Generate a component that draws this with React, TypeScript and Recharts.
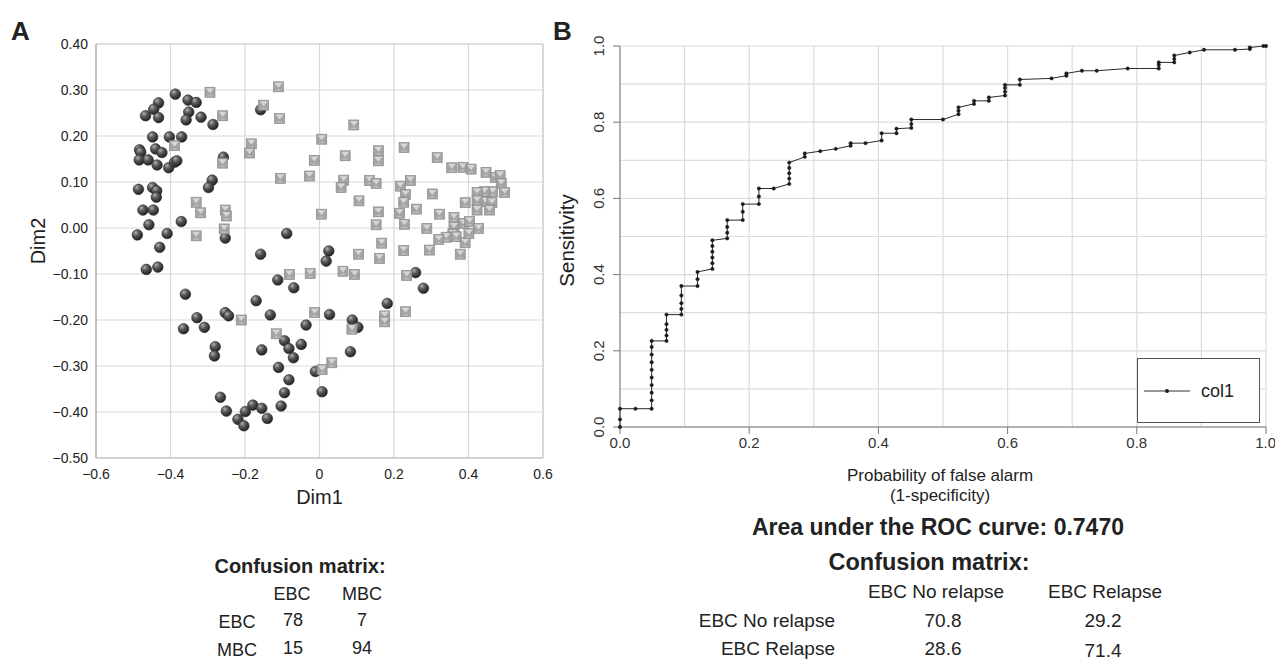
import React from "react";
import { ScatterChart, Scatter, LineChart, Line, XAxis, YAxis, CartesianGrid, ReferenceLine, Legend } from "recharts";

const FONT = "'Liberation Sans', Arial, Helvetica, sans-serif";

// ---- Panel A: 2-D projection, EBC (spheres) and MBC (squares) ----
const ebcDim1 = [
  -0.387, -0.432, -0.353, -0.331, -0.445, -0.467, -0.432, -0.351, -0.358, -0.318,
  -0.286, -0.448, -0.403, -0.370, -0.483, -0.480, -0.440, -0.423, -0.484, -0.460,
  -0.436, -0.405, -0.389, -0.383, -0.258, -0.486, -0.448, -0.437, -0.438, -0.288,
  -0.298, -0.474, -0.446, -0.458, -0.371, -0.489, -0.409, -0.253, -0.158, -0.088,
  -0.429, -0.465, -0.434, -0.158, -0.112, -0.069, -0.360, -0.170, -0.329, -0.309,
  -0.365, -0.253, -0.244, -0.132, -0.036, -0.280, -0.282, -0.155, -0.094, -0.082,
  -0.049, -0.070, -0.110, -0.011, -0.082, -0.094, -0.266, -0.103, -0.250, -0.199,
  -0.179, -0.155, -0.219, -0.203, -0.140, 0.025, 0.018, 0.258, 0.279, 0.182,
  0.027, 0.088, 0.103, 0.083, 0.007,
];
const ebcDim2 = [
  0.291, 0.272, 0.278, 0.273, 0.258, 0.244, 0.240, 0.252, 0.235, 0.241,
  0.225, 0.198, 0.198, 0.198, 0.170, 0.165, 0.172, 0.164, 0.148, 0.148,
  0.137, 0.131, 0.143, 0.146, 0.154, 0.084, 0.088, 0.081, 0.067, 0.104,
  0.088, 0.039, 0.039, 0.007, 0.014, -0.015, -0.012, -0.022, 0.257, -0.012,
  -0.042, -0.090, -0.085, -0.057, -0.113, -0.130, -0.144, -0.158, -0.195, -0.216,
  -0.219, -0.184, -0.191, -0.189, -0.211, -0.258, -0.278, -0.265, -0.245, -0.262,
  -0.253, -0.282, -0.303, -0.312, -0.330, -0.358, -0.368, -0.387, -0.398, -0.399,
  -0.385, -0.392, -0.416, -0.430, -0.414, -0.050, -0.072, -0.097, -0.131, -0.164,
  -0.188, -0.200, -0.216, -0.269, -0.356,
];
const mbcDim1 = [
  -0.294, -0.260, -0.389, -0.260, -0.331, -0.319, -0.253, -0.250, -0.256, -0.331,
  -0.110, -0.150, -0.107, -0.183, -0.188, -0.105, -0.027, -0.014, 0.006, 0.005,
  0.092, 0.069, 0.158, 0.158, 0.227, 0.316, 0.065, 0.058, 0.134, 0.152,
  0.217, 0.244, 0.231, 0.226, 0.303, 0.106, 0.158, 0.152, 0.215, 0.228,
  0.260, 0.322, 0.288, 0.355, 0.385, 0.407, 0.447, 0.472, 0.485, 0.488,
  0.497, 0.465, 0.443, 0.423, 0.445, 0.463, 0.423, 0.423, 0.456, 0.391,
  0.361, 0.387, 0.403, 0.427, 0.361, 0.358, 0.340, 0.320, 0.367, 0.391,
  0.401, -0.081, -0.025, -0.210, -0.116, -0.013, 0.167, 0.105, 0.161, 0.226,
  0.295, 0.378, 0.063, 0.094, 0.234, 0.175, 0.175, 0.231, 0.087, 0.033,
  0.007,
];
const mbcDim2 = [
  0.295, 0.244, 0.179, 0.141, 0.056, 0.033, 0.039, 0.026, -0.002, -0.017,
  0.307, 0.267, 0.238, 0.183, 0.163, 0.108, 0.113, 0.147, 0.193, 0.030,
  0.224, 0.157, 0.168, 0.146, 0.175, 0.153, 0.104, 0.088, 0.103, 0.097,
  0.091, 0.103, 0.073, 0.056, 0.074, 0.059, 0.035, 0.007, 0.032, 0.008,
  0.041, 0.030, -0.001, 0.131, 0.132, 0.128, 0.121, 0.110, 0.114, 0.097,
  0.077, 0.079, 0.079, 0.077, 0.057, 0.055, 0.059, 0.039, 0.039, 0.055,
  0.023, 0.010, 0.014, -0.001, 0.002, -0.013, -0.020, -0.025, -0.019, -0.032,
  -0.012, -0.101, -0.099, -0.200, -0.230, -0.184, -0.033, -0.057, -0.066, -0.049,
  -0.048, -0.057, -0.094, -0.101, -0.103, -0.191, -0.204, -0.182, -0.220, -0.293,
  -0.308,
];
const dim1Ticks = [-0.6, -0.4, -0.2, 0, 0.2, 0.4, 0.6];
const dim2Ticks = [0.4, 0.3, 0.2, 0.1, 0, -0.1, -0.2, -0.3, -0.4, -0.5];

const matACols = ["EBC", "MBC"];
const matARows = ["EBC", "MBC"];
const matAValues = [["78", "7"], ["15", "94"]];

// ---- Panel B: ROC curve ----
const rocFpr = [
  0, 0, 0, 0.024, 0.049, 0.049, 0.049, 0.049, 0.049, 0.049, 0.049, 0.049, 0.049, 0.049,
  0.072, 0.072, 0.072, 0.072, 0.072, 0.095, 0.095, 0.095, 0.095, 0.095, 0.12, 0.12, 0.12,
  0.143, 0.143, 0.143, 0.143, 0.143, 0.143, 0.166, 0.166, 0.166, 0.166, 0.19, 0.19, 0.19,
  0.215, 0.215, 0.215, 0.238, 0.262, 0.262, 0.262, 0.262, 0.262, 0.286, 0.286, 0.31, 0.334,
  0.357, 0.357, 0.38, 0.405, 0.405, 0.428, 0.428, 0.451, 0.451, 0.451, 0.5, 0.524, 0.524,
  0.524, 0.548, 0.548, 0.571, 0.571, 0.596, 0.596, 0.596, 0.596, 0.619, 0.619, 0.668, 0.691,
  0.691, 0.715, 0.738, 0.786, 0.834, 0.834, 0.834, 0.858, 0.858, 0.858, 0.882, 0.904, 0.952,
  0.975, 0.975, 0.996, 1.0,
];
const rocTpr = [
  0, 0.02, 0.048, 0.048, 0.048, 0.07, 0.09, 0.11, 0.13, 0.15, 0.17, 0.19, 0.21, 0.226,
  0.226, 0.24, 0.255, 0.27, 0.295, 0.295, 0.31, 0.325, 0.345, 0.37, 0.37, 0.388, 0.407,
  0.415, 0.43, 0.445, 0.46, 0.475, 0.49, 0.495, 0.51, 0.525, 0.543, 0.543, 0.565, 0.585,
  0.585, 0.605, 0.626, 0.626, 0.638, 0.652, 0.666, 0.68, 0.694, 0.709, 0.718, 0.724, 0.73,
  0.738, 0.745, 0.745, 0.752, 0.771, 0.771, 0.783, 0.785, 0.795, 0.807, 0.807, 0.821, 0.83,
  0.839, 0.848, 0.856, 0.856, 0.865, 0.87, 0.88, 0.89, 0.898, 0.898, 0.912, 0.915, 0.922,
  0.928, 0.935, 0.935, 0.941, 0.941, 0.95, 0.957, 0.957, 0.966, 0.975, 0.983, 0.99, 0.99,
  0.992, 0.996, 1.0, 1.0,
];
const rocTicks = [0, 0.2, 0.4, 0.6, 0.8, 1];
const rocGrid = [0, 0.1, 0.2, 0.3, 0.4, 0.5, 0.6, 0.7, 0.8, 0.9, 1];
const aucValue = "0.7470";

const matBCols = ["EBC No relapse", "EBC Relapse"];
const matBRows = ["EBC No relapse", "EBC Relapse"];
const matBValues = [["70.8", "29.2"], ["28.6", "71.4"]];

const ebcData = ebcDim1.map((x, i) => ({ x, y: ebcDim2[i] }));
const mbcData = mbcDim1.map((x, i) => ({ x, y: mbcDim2[i] }));
const rocData = rocFpr.map((fpr, i) => ({ fpr, tpr: rocTpr[i] }));

const fmtDim1 = (v: number) => (v === 0 ? "0" : (v < 0 ? "\u2212" : "") + Math.abs(v).toFixed(1));
const fmtDim2 = (v: number) => (v < 0 ? "\u2212" : "") + Math.abs(v).toFixed(2);

const Ball = ({ cx, cy }: any) => (
  <circle cx={cx} cy={cy} r={5.3} fill="url(#ballGrad)" stroke="#262626" strokeWidth={0.6} />
);

const Box = ({ cx, cy }: any) => {
  const s = 5;
  return (
    <g>
      <rect x={cx - s} y={cy - s} width={2 * s} height={2 * s} fill="#a4a4a4" stroke="#8a8a8a" strokeWidth={0.7} />
      <polygon points={`${cx - s + 1},${cy - s + 1} ${cx + s - 1},${cy - s + 1} ${cx},${cy + 1}`} fill="#d6d6d6" />
      <polygon points={`${cx - s + 1.5},${cy + s - 1} ${cx + s - 1.5},${cy + s - 1} ${cx},${cy + 2}`} fill="#bdbdbd" />
    </g>
  );
};

const RotTick = ({ x, y, payload }: any) => (
  <text transform={`translate(${x - 13},${y}) rotate(-90)`} textAnchor="middle" dominantBaseline="central"
    fontSize={15} fill="#333" fontFamily={FONT}>
    {Number(payload.value).toFixed(1)}
  </text>
);

const RocLegend = () => (
  <div style={{ width: "100%", height: "100%", border: "1.5px solid #555", boxSizing: "border-box", background: "#fff", position: "relative", fontFamily: FONT }}>
    <svg width={50} height={20} style={{ position: "absolute", left: 5, top: 22 }}>
      <line x1={1} y1={10} x2={47} y2={10} stroke="#333" strokeWidth={1} />
      <circle cx={24} cy={10} r={2} fill="#1a1a1a" />
    </svg>
    <span style={{ position: "absolute", left: 63, top: 21, fontSize: 18, color: "#222", lineHeight: "22px" }}>col1</span>
  </div>
);

const Txt = ({ x, y, size, bold, align = "center", children }: any) => (
  <div style={{
    position: "absolute", left: x, top: y, fontSize: size, fontWeight: bold ? 700 : 400, color: "#222",
    fontFamily: FONT, whiteSpace: "nowrap", lineHeight: 1,
    transform: `translate(${align === "center" ? "-50%" : align === "right" ? "-100%" : "0"}, -50%)`,
  }}>{children}</div>
);

export default function App() {
  return (
    <div style={{ position: "absolute", left: 0, top: 0, width: 1275, height: 659, background: "#fff", overflow: "hidden" }}>
      <Txt x={11} y={31} size={26} bold align="left">A</Txt>
      <Txt x={553} y={31} size={26} bold align="left">B</Txt>

      <div style={{ position: "absolute", left: 0, top: 0 }}>
        <ScatterChart width={560} height={520} margin={{ top: 44, right: 17, bottom: 0, left: 20 }}>
          <defs>
            <radialGradient id="ballGrad" cx="35%" cy="30%" r="70%">
              <stop offset="0%" stopColor="#b0b0b0" />
              <stop offset="40%" stopColor="#5c5c5c" />
              <stop offset="100%" stopColor="#222" />
            </radialGradient>
          </defs>
          <CartesianGrid stroke="#d9d9d9" strokeWidth={1.2} />
          <ReferenceLine y={0.4} stroke="#d0d0d0" />
          <ReferenceLine x={0.6} stroke="#c8c8c8" />
          <XAxis type="number" dataKey="x" domain={[-0.6, 0.6]} ticks={dim1Ticks} tickFormatter={fmtDim1}
            height={62} tickSize={0} tickMargin={11} axisLine={{ stroke: "#b8b8b8" }}
            tick={{ fontSize: 14, fill: "#222", fontFamily: FONT }}
            label={{ value: "Dim1", position: "insideBottom", offset: 16, style: { fontSize: 20, fill: "#222", fontFamily: FONT } }} />
          <YAxis type="number" dataKey="y" domain={[-0.5, 0.4]} ticks={dim2Ticks} tickFormatter={fmtDim2}
            width={76} tickSize={0} tickMargin={8} axisLine={{ stroke: "#a0a0a0" }}
            tick={{ fontSize: 14, fill: "#222", fontFamily: FONT }}
            label={{ value: "Dim2", angle: -90, position: "insideLeft", offset: 18, dy: -10, style: { textAnchor: "middle", fontSize: 20, fill: "#222", fontFamily: FONT } }} />
          <Scatter data={ebcData} shape={(p: any) => <Ball {...p} />} isAnimationActive={false} />
          <Scatter data={mbcData} shape={(p: any) => <Box {...p} />} isAnimationActive={false} />
        </ScatterChart>
      </div>

      <Txt x={300} y={566} size={20} bold>Confusion matrix:</Txt>
      {matACols.map((c, j) => <Txt key={c} x={292 + j * 70} y={594} size={18}>{c}</Txt>)}
      {matARows.map((r, i) => (
        <React.Fragment key={r}>
          <Txt x={237} y={622 + i * 28} size={18}>{r}</Txt>
          {matAValues[i].map((v, j) => <Txt key={j} x={293 + j * 69} y={620 + i * 28} size={18}>{v}</Txt>)}
        </React.Fragment>
      ))}

      <div style={{ position: "absolute", left: 540, top: 0 }}>
        <LineChart width={735} height={460} data={rocData} margin={{ top: 46, right: 9, bottom: 0, left: 20 }}>
          {rocGrid.map(v => <ReferenceLine key={"gx" + v} x={v} stroke="#dcdcdc" strokeWidth={1.2} />)}
          {rocGrid.map(v => <ReferenceLine key={"gy" + v} y={v} stroke="#dcdcdc" strokeWidth={1.2} />)}
          <XAxis type="number" dataKey="fpr" domain={[0, 1]} ticks={rocTicks} tickFormatter={(v: number) => v.toFixed(1)}
            height={33} tickSize={7} tickMargin={3} stroke="#777"
            tick={{ fontSize: 15, fill: "#333", fontFamily: FONT }} />
          <YAxis type="number" domain={[0, 1]} ticks={rocTicks} width={60} tickSize={7} stroke="#777" tick={<RotTick />}
            label={{ value: "Sensitivity", angle: -90, position: "insideLeft", offset: 7, dy: 4, style: { textAnchor: "middle", fontSize: 20.5, fill: "#222", fontFamily: FONT } }} />
          <Line dataKey="tpr" type="linear" stroke="#2a2a2a" strokeWidth={1} isAnimationActive={false}
            dot={{ r: 1.7, fill: "#1a1a1a", stroke: "#1a1a1a", strokeWidth: 0.5 }} />
          <Legend layout="horizontal" verticalAlign="middle" align="center" content={<RocLegend />}
            wrapperStyle={{ left: 597, top: 358, width: 123, height: 65 }} />
        </LineChart>
      </div>

      <Txt x={940} y={475} size={17}>Probability of false alarm</Txt>
      <Txt x={940} y={495} size={17}>(1-specificity)</Txt>
      <Txt x={938} y={527} size={23} bold>Area under the ROC curve: {aucValue}</Txt>
      <Txt x={929} y={563} size={23.5} bold>Confusion matrix:</Txt>
      {matBCols.map((c, j) => <Txt key={c} x={936 + j * 169} y={591} size={19}>{c}</Txt>)}
      {matBRows.map((r, i) => (
        <React.Fragment key={r}>
          <Txt x={835} y={620 + i * 28} size={19} align="right">{r}</Txt>
          {matBValues[i].map((v, j) => <Txt key={j} x={943 + j * 160} y={620 + i * 28 + j * 2 * i} size={19}>{v}</Txt>)}
        </React.Fragment>
      ))}
    </div>
  );
}
